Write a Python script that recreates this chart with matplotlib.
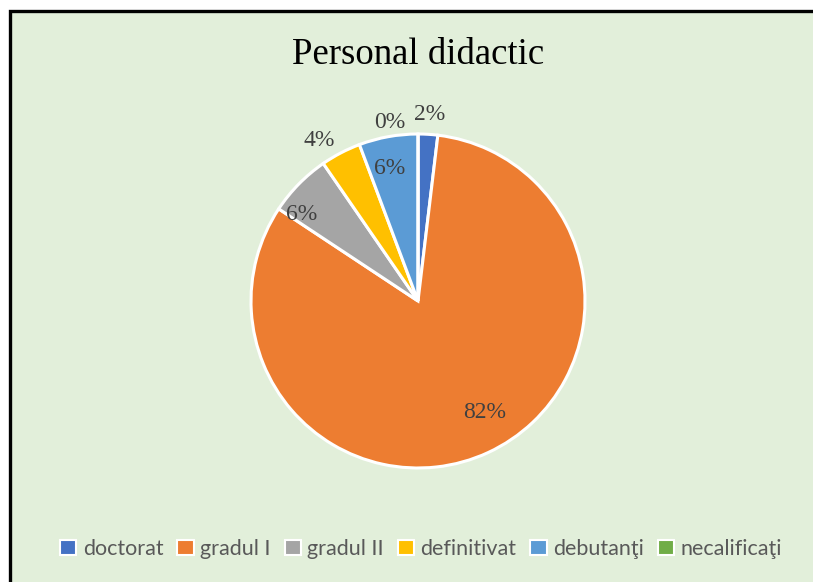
import matplotlib
matplotlib.use("Agg")
import matplotlib.pyplot as plt
from matplotlib.patches import Rectangle, Patch
import numpy as np

# date
categories = ["doctorat", "gradul I", "gradul II", "definitivat", "debutanţi", "necalificaţi"]
shares = [1.9, 82.4, 6.1, 3.9, 5.7, 0.0]
pct_labels = ["2%", "82%", "6%", "4%", "6%", "0%"]
colors = ["#4472C4", "#ED7D31", "#A5A5A5", "#FFC000", "#5B9BD5", "#70AD47"]

# pozitionare etichete: (raza relativa, deplasare unghiulara in grade)
label_place = [(1.12, 0), (0.78, 6), (0.87, 8), (1.13, 4), (0.81, 2), (1.08, 9)]

W, H = 813, 582
fig = plt.figure(figsize=(W / 100, H / 100), dpi=100, facecolor="white")

# chenar + fundal
bg = Rectangle((10 / W, -0.1), 1.2, 1.1 - 11 / H, transform=fig.transFigure,
               facecolor="#E2EFDA", edgecolor="black", linewidth=2.4, zorder=-5)
fig.patches.append(bg)

cx, cy, r = 418, 301, 167
lim = 1.05
size = 2 * r * lim
ax = fig.add_axes([(cx - size / 2) / W, (H - cy - size / 2) / H, size / W, size / H])
ax.set_axis_off()
ax.set_zorder(2)

wedges, _ = ax.pie(shares, colors=colors, startangle=90, counterclock=False,
                   radius=1.0, wedgeprops=dict(edgecolor="white", linewidth=2.2))
ax.set_xlim(-lim, lim)
ax.set_ylim(-lim, lim)
ax.set_aspect("equal")

for w, lab, (rad, shift) in zip(wedges, pct_labels, label_place):
    mid = np.deg2rad((w.theta1 + w.theta2) / 2 + shift)
    ax.text(rad * np.cos(mid), rad * np.sin(mid), lab, ha="center", va="center",
            fontsize=17, family="Liberation Serif", color="#404040", clip_on=False)

fig.text(0.514, 1 - 55 / H, "Personal didactic", ha="center", va="center",
         fontsize=26.5, family="Liberation Serif", color="black")

handles = [Patch(facecolor=c, edgecolor="white", linewidth=1.5) for c in colors]
leg = fig.legend(handles, categories, loc="center", bbox_to_anchor=(0.518, 1 - 549 / H),
                 ncol=6, frameon=False, handlelength=0.75, handleheight=0.75,
                 handletextpad=0.3, columnspacing=0.65,
                 prop=dict(family="Lato", size=15.5))
for t in leg.get_texts():
    t.set_color("#595959")

fig.savefig("out.png", dpi=100, facecolor="white")
